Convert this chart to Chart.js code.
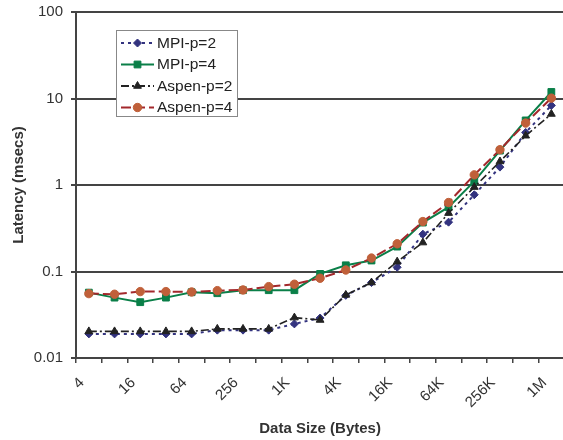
<!DOCTYPE html>
<html><head><meta charset="utf-8">
<script src="https://cdn.jsdelivr.net/npm/chart.js@4.4.0/dist/chart.umd.min.js"></script>
<style>
html,body{margin:0;padding:0;overflow:hidden;background:#fff;width:563px;height:440px}
#wrap{position:absolute;left:0;top:0;width:570px;height:440px}
</style>
</head><body>
<div id="wrap"><canvas id="c" width="570" height="440"></canvas></div>
<script>
// ---- data ----
const categories = ['4','8','16','32','64','128','256','512','1K','2K','4K','8K','16K','32K','64K','128K','256K','512K','1M'];
const xTickLabels = ['4','16','64','256','1K','4K','16K','64K','256K','1M'];
const yTickValues = [0.01, 0.1, 1, 10, 100];
const yTickLabels = ['0.01', '0.1', '1', '10', '100'];

const mpiP2   = [0.019, 0.019, 0.019, 0.019, 0.019, 0.021, 0.021, 0.021, 0.0248, 0.029, 0.053, 0.0745, 0.112, 0.27, 0.372, 0.771, 1.61, 4.05, 8.32];
const mpiP4   = [0.057, 0.0499, 0.0442, 0.0499, 0.0576, 0.0561, 0.0608, 0.0608, 0.0608, 0.0938, 0.118, 0.134, 0.194, 0.368, 0.555, 1.10, 2.50, 5.58, 11.9];
const aspenP2 = [0.0203, 0.0203, 0.0203, 0.0203, 0.0203, 0.0217, 0.0217, 0.0217, 0.0293, 0.0275, 0.0536, 0.0745, 0.130, 0.216, 0.473, 0.946, 1.87, 3.71, 6.62];
const aspenP4 = [0.0555, 0.0546, 0.0586, 0.0586, 0.058, 0.0601, 0.0612, 0.0669, 0.0713, 0.0836, 0.104, 0.143, 0.209, 0.378, 0.627, 1.31, 2.56, 5.20, 10.1];

const FONT = '"Liberation Sans", Arial, Helvetica, sans-serif';
const TXT = '#333333';
const AXIS = '#444444';

const datasets = [
  {label:'MPI-p=2', data: mpiP2, borderColor:'#33337f', backgroundColor:'#33337f', borderWidth:2, borderDash:[3,4],
   pointStyle:'rectRot', pointRadius:4, pointBorderWidth:1, order:3},
  {label:'MPI-p=4', data: mpiP4, borderColor:'#0a7f48', backgroundColor:'#0a7f48', borderWidth:2, borderDash:[],
   pointStyle:'rect', pointRadius:4.8, pointBorderWidth:1, order:2},
  {label:'Aspen-p=2', data: aspenP2, borderColor:'#222222', backgroundColor:'#222222', borderWidth:1.6, borderDash:[8,3,2,3],
   pointStyle:'triangle', pointRadius:4.5, pointBorderWidth:1, order:1},
  {label:'Aspen-p=4', data: aspenP4, borderColor:'#a3282c', backgroundColor:'#c0603a', pointBorderColor:'#c0603a', borderWidth:2, borderDash:[10,4],
   pointStyle:'circle', pointRadius:4.2, pointBorderWidth:1, order:0}
];
datasets.forEach(d => { d.tension = 0; d.fill = false; if (!d.pointBorderColor) d.pointBorderColor = d.borderColor; d.pointBackgroundColor = d.backgroundColor; });

function drawMarker(ctx, style, x, y, r, color) {
  ctx.save();
  ctx.fillStyle = color; ctx.strokeStyle = color; ctx.setLineDash([]); ctx.lineWidth = 1;
  ctx.beginPath();
  if (style === 'rectRot') { ctx.moveTo(x, y - r); ctx.lineTo(x + r, y); ctx.lineTo(x, y + r); ctx.lineTo(x - r, y); ctx.closePath(); }
  else if (style === 'rect') { const s = r * Math.SQRT1_2; ctx.rect(x - s, y - s, 2 * s, 2 * s); }
  else if (style === 'triangle') { ctx.moveTo(x, y - r); ctx.lineTo(x + r * 0.866, y + r * 0.5); ctx.lineTo(x - r * 0.866, y + r * 0.5); ctx.closePath(); }
  else { ctx.arc(x, y, r, 0, Math.PI * 2); }
  ctx.fill(); ctx.stroke();
  ctx.restore();
}

const legendBox = {
  id: 'legendBox',
  afterDraw(chart) {
    const ctx = chart.ctx;
    ctx.save();
    ctx.fillStyle = '#ffffff';
    ctx.fillRect(116.5, 30.5, 121, 86);
    ctx.strokeStyle = '#888888'; ctx.lineWidth = 1;
    ctx.strokeRect(116.5, 30.5, 121, 86);
    const rows = [43, 64.5, 86, 107.5];
    chart.data.datasets.forEach((d, i) => {
      const y = rows[i];
      ctx.save();
      ctx.strokeStyle = d.borderColor; ctx.lineWidth = 2; ctx.setLineDash(d.borderDash || []);
      ctx.beginPath(); ctx.moveTo(121, y); ctx.lineTo(154, y); ctx.stroke();
      ctx.restore();
      drawMarker(ctx, d.pointStyle, 137.5, y, d.pointRadius, d.pointBackgroundColor);
      ctx.fillStyle = '#222222';
      ctx.font = '15.5px ' + FONT;
      ctx.textAlign = 'left'; ctx.textBaseline = 'middle';
      ctx.fillText(d.label, 157, y + 0.5);
    });
    ctx.restore();
  }
};

new Chart(document.getElementById('c'), {
  type: 'line',
  data: { labels: categories, datasets: datasets },
  options: {
    responsive: false, animation: false, devicePixelRatio: 1,
    layout: { padding: { left: 0, right: 4, top: 12, bottom: 0 } },
    plugins: { legend: { display: false }, tooltip: { enabled: false } },
    scales: {
      x: {
        type: 'category', offset: true,
        grid: { offset: true, drawOnChartArea: false, drawTicks: true, tickLength: 5, color: AXIS, lineWidth: 1.5 },
        border: { display: true, color: AXIS, width: 2 },
        ticks: {
          autoSkip: false, maxRotation: 45, minRotation: 45, padding: 11, labelOffset: -7,
          font: { family: FONT, size: 15 }, color: TXT,
          callback: (v, i) => xTickLabels.includes(categories[i]) ? categories[i] : ''
        },
        title: { display: true, text: 'Data Size (Bytes)', color: TXT, font: { family: FONT, size: 15, weight: 'bold' }, padding: { top: 0, bottom: 2 } },
        afterFit(s) { s.height = 82; s.paddingLeft = 0; s.paddingRight = 0; }
      },
      y: {
        type: 'logarithmic', min: 0.01, max: 100,
        afterBuildTicks(s) { s.ticks = yTickValues.map(v => ({ value: v })); },
        ticks: {
          padding: 8, font: { family: FONT, size: 15 }, color: TXT,
          callback: (v) => { const i = yTickValues.indexOf(v); return i >= 0 ? yTickLabels[i] : ''; }
        },
        grid: { color: AXIS, lineWidth: 2, tickLength: 5, drawTicks: true },
        border: { display: true, color: AXIS, width: 2 },
        title: { display: true, text: 'Latency (msecs)', color: TXT, font: { family: FONT, size: 15, weight: 'bold' }, padding: { top: 9.5, bottom: 0 } },
        afterFit(s) { s.width = 76; s.paddingTop = 0; s.paddingBottom = 0; }
      }
    }
  },
  plugins: [legendBox]
});
</script>
</body></html>
